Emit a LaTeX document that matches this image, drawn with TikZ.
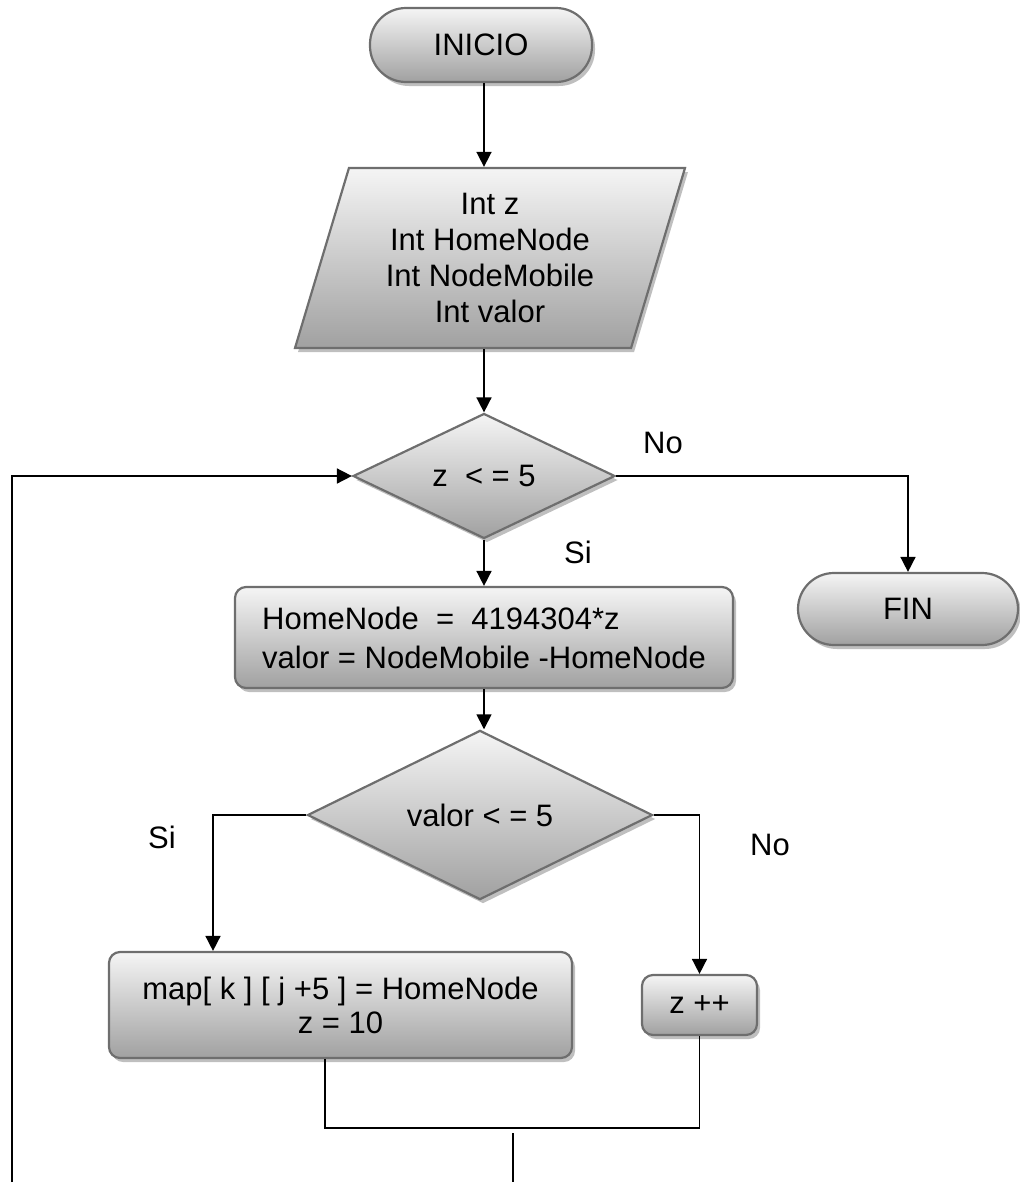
\documentclass[tikz,border=0pt]{standalone}
\usepackage{fontspec}
\setmainfont{Liberation Sans}
\usetikzlibrary{shapes.geometric,shadows,arrows.meta,calc}
\begin{document}
\begin{tikzpicture}[x=1pt,y=-1pt,
  txt/.style={font=\fontsize{31}{36}\selectfont},
  base/.style={txt, draw=black!57, line width=2.2pt,
    top color=black!4, bottom color=black!37,
    drop shadow={shadow xshift=3pt, shadow yshift=-4pt, fill=black!25, opacity=1},
    inner sep=0pt},
  term/.style={base, rectangle, rounded corners=36pt},
  proc/.style={base, rectangle, rounded corners=11pt},
  dec/.style={base, diamond},
  io/.style={base, trapezium, trapezium left angle=67.4, trapezium right angle=112.6,
    trapezium stretches body},
  conn/.style={line width=1.6pt, black},
  arr/.style={conn, -{Triangle[length=15pt,width=15pt]}},
  lbl/.style={txt, inner sep=0pt}
]
\useasboundingbox (0,0) rectangle (1020,1189);

% shapes
\node[term, minimum width=222pt, minimum height=74pt] (inicio) at (481,45) {INICIO};
\node[io, minimum width=390pt, minimum height=180pt, align=center] (decl) at (490,258)
  {Int z\\Int HomeNode\\Int NodeMobile\\Int valor};
\node[dec, minimum width=262pt, minimum height=124pt] (d1) at (484,476) {z\ \ < = 5};
\node[term, minimum width=220pt, minimum height=72pt] (fin) at (908,609) {FIN};
\node[proc, minimum width=498pt, minimum height=101pt, align=left,
  font=\fontsize{31}{39}\selectfont] (hn) at (484,637.5)
  {HomeNode\ \ =\ \ 4194304*z\\valor = NodeMobile -HomeNode};
\node[dec, minimum width=345pt, minimum height=144pt] (d2) at (480,815) {valor < = 5};
\node[proc, minimum width=463pt, minimum height=106pt, align=center,
  font=\fontsize{31}{34}\selectfont] (map) at (340.5,1005)
  {map[ k ] [ j +5 ] = HomeNode\\z = 10};
\node[proc, minimum width=115pt, minimum height=60pt] (zpp) at (699.5,1005) {z ++};

% free ends of the loop connectors
\coordinate (out) at (513,1133);
\coordinate (outend) at (513,1182);
\coordinate (loopstart) at (12,1182);

% connectors
\draw[arr] (inicio.south -| d1) -- (d1 |- decl.north);
\draw[arr] (d1 |- decl.south) -- (d1.north);
\draw[arr] (d1.east) -| (fin.north);
\draw[arr] (d1.south) -- (hn.north);
\draw[arr] (hn.south) -- (hn.south |- d2.north);
\draw[arr] (d2.west) -| ([xshift=-127.5pt]map.north);
\draw[arr] (d2.east) -| (zpp.north);
\draw[conn] ([xshift=-15.5pt]map.south) |- ($(zpp.south)+(0,92)$) -- (zpp.south);
\draw[conn] (out) -- (outend);
\draw[arr] (loopstart) |- (d1.west);

% branch labels
\node[lbl] (no1) at (663,443) {No};
\node[lbl] (si1) at (578,552) {Si};
\node[lbl] (si2) at (162,837) {Si};
\node[lbl] (no2) at (770,845) {No};
\end{tikzpicture}
\end{document}
